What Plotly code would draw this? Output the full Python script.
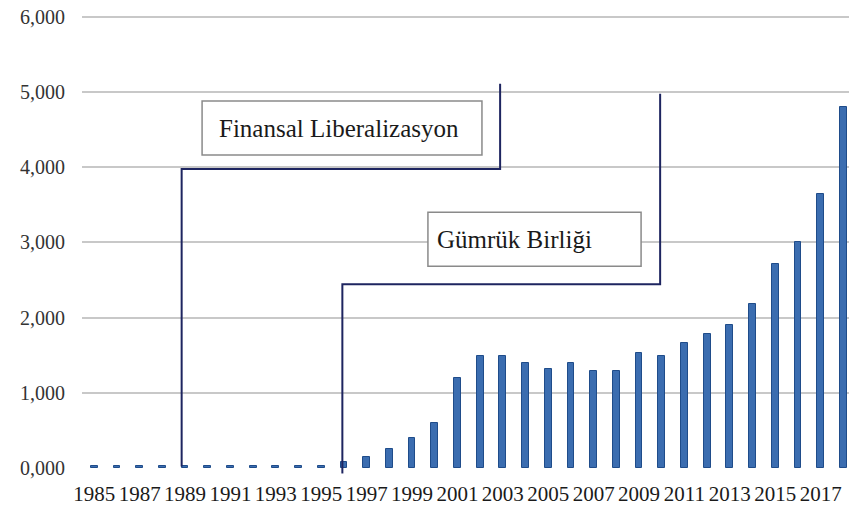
import plotly.graph_objects as go

years = list(range(1985, 2019))
values = [22, 22, 22, 22, 22, 22, 22, 22, 22, 22, 22,
          75, 140, 255, 395, 600, 1200, 1490, 1490, 1400, 1315,
          1400, 1290, 1290, 1530, 1495, 1665, 1785, 1905, 2185,
          2715, 3000, 3640, 4800]

x_tick_years = list(range(1985, 2018, 2))
x_tick_text = [str(y) for y in x_tick_years]
y_tick_vals = [0, 1000, 2000, 3000, 4000, 5000, 6000]
y_tick_text = ["0,000", "1,000", "2,000", "3,000", "4,000", "5,000", "6,000"]

# annotation callouts (year, value) paths
callout1_path = [(1988.85, 20), (1988.85, 3972), (2002.88, 3972), (2002.88, 5105)]
callout2_path = [(1995.93, 0), (1995.93, 2441), (2009.93, 2441), (2009.93, 4973)]
box1 = (1989.75, 4158, 2002.08, 4877)
box2 = (1999.70, 2681, 2009.09, 3400)
label1 = ("Finansal Liberalizasyon", 1990.40, 4518)
label2 = ("Gümrük Birliği", 2000.00, 3040)

SERIF = "Liberation Serif, Times New Roman, serif"
LINE_COLOR = "#1e2560"

fig = go.Figure()
fig.add_trace(go.Bar(
    x=years, y=values, width=0.3,
    marker=dict(color="#3b6db0", line=dict(color="#1f4c8a", width=1)),
    showlegend=False, cliponaxis=True, hoverinfo="skip",
))

def path_str(pts):
    return "M " + " L ".join(f"{x},{y}" for x, y in pts)

shapes = []
for pts in (callout1_path, callout2_path):
    shapes.append(dict(type="path", xref="x", yref="y", path=path_str(pts),
                       line=dict(color=LINE_COLOR, width=2), layer="above"))
# small extension of second callout below the axis
shapes.append(dict(type="line", xref="x", yref="paper",
                   x0=callout2_path[0][0], x1=callout2_path[0][0], y0=0, y1=-0.012,
                   line=dict(color=LINE_COLOR, width=2)))
for b in (box1, box2):
    shapes.append(dict(type="rect", xref="x", yref="y", x0=b[0], y0=b[1], x1=b[2], y1=b[3],
                       line=dict(color="#8a8a8a", width=1.5), fillcolor="white", layer="above"))

annotations = []
for txt, x, y in (label1, label2):
    annotations.append(dict(text=txt, x=x, y=y, xref="x", yref="y", xanchor="left",
                            yanchor="middle", showarrow=False,
                            font=dict(family=SERIF, size=25, color="#1a1a1a")))

fig.update_layout(
    width=849, height=506,
    margin=dict(l=82, r=0, t=12, b=38, autoexpand=False),
    plot_bgcolor="white", paper_bgcolor="white",
    shapes=shapes, annotations=annotations,
    xaxis=dict(range=[1984.46, 2018.25], tickmode="array", tickvals=x_tick_years,
               ticktext=x_tick_text, showgrid=False, zeroline=False, showline=False,
               ticks="", ticklabelstandoff=11, automargin=False,
               tickfont=dict(family=SERIF, size=21, color="#1a1a1a")),
    yaxis=dict(range=[0, 6060], tickmode="array", tickvals=y_tick_vals, ticktext=y_tick_text,
               showgrid=True, gridcolor="#c8c8c8", gridwidth=1.5, zeroline=False,
               showline=False, ticks="", ticklabelstandoff=16, automargin=False,
               tickfont=dict(family=SERIF, size=20, color="#333333")),
    bargap=0,
)

fig.write_html("out.html", config={"displayModeBar": False},
               post_script="document.body.style.margin='0';document.body.style.overflow='hidden';")
